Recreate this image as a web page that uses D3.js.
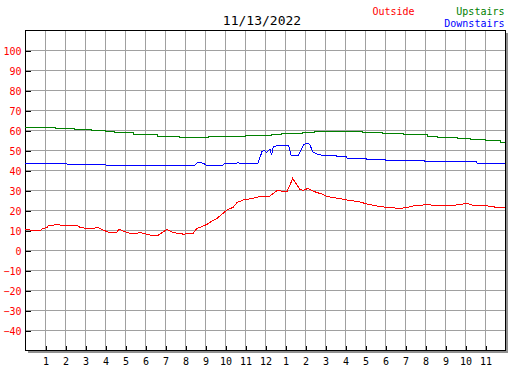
<!DOCTYPE html>
<html>
<head>
<meta charset="utf-8">
<script src="https://cdn.jsdelivr.net/npm/d3@7"></script>
<style>
    body { margin: 0; background: #fff; }
    svg { display: block; font-family: "DejaVu Sans Mono", monospace; }
</style>
</head>
<body>
<div id="chart"></div>
<script>
'use strict';

// 读图得到的数据：[小时, 温度]
var outside = [
    [0, 10.3], [0.1, 10.5], [0.25, 10.0], [0.8, 10.0], [0.85, 10.5], [1.1, 11.3], [1.15, 12.0],
    [1.6, 12.8], [1.85, 12.3], [2.6, 12.3], [2.75, 11.3], [3.1, 10.8], [3.4, 10.8], [3.6, 11.3],
    [3.75, 10.8], [3.9, 10.0], [4.15, 9.0], [4.6, 9.0], [4.7, 10.5], [4.9, 9.5], [5.25, 8.3],
    [5.6, 8.3], [5.75, 8.8], [6.1, 7.8], [6.35, 7.3], [6.65, 7.3], [6.9, 9.0], [7.1, 10.3],
    [7.35, 9.0], [7.6, 8.3], [7.85, 8.3], [7.9, 7.8], [8.1, 8.3], [8.4, 8.3], [8.6, 10.8],
    [8.75, 11.3], [9.1, 12.8], [9.3, 14.2], [9.6, 15.8], [9.8, 17.5], [10.1, 20.0], [10.4, 21.3],
    [10.6, 23.7], [10.9, 25.0], [11.35, 25.7], [11.65, 26.5], [11.75, 27.0], [12.25, 27.0],
    [12.6, 29.7], [13.1, 29.2], [13.25, 32.5], [13.38, 35.8], [13.6, 32.5], [13.75, 30.3],
    [13.9, 29.8], [14.15, 30.8], [14.35, 29.7], [14.6, 28.7], [14.85, 28.0], [15.1, 26.7],
    [15.75, 25.7], [16.1, 25.0], [16.75, 24.0], [17.1, 23.0], [17.6, 22.0], [18.1, 21.3],
    [18.75, 20.8], [19.15, 21.3], [19.4, 22.0], [20.1, 22.7], [20.85, 22.0], [21.4, 22.3],
    [22.1, 23.3], [22.4, 22.3], [23.15, 22.0], [23.6, 21.3], [24, 21.3]
];

var upstairs = [
    [0, 61.3], [1.5, 60.8], [2.45, 60.3], [3.3, 59.8], [4.0, 59.3], [4.45, 58.8], [5.4, 58.0],
    [6.6, 57.0], [7.7, 56.5], [9.15, 57.0], [11.0, 57.4], [12.3, 57.8], [12.8, 58.3],
    [13.85, 58.8], [14.45, 59.3], [16.85, 58.8], [17.85, 58.3], [18.9, 57.7], [20.1, 56.8],
    [20.6, 56.3], [21.6, 55.6], [22.25, 55.1], [23.0, 54.6], [23.75, 54.0], [24, 54.0]
];

var downstairs = [
    [0, 43.5], [2.05, 43.5], [2.1, 43.0], [4.0, 43.0], [4.05, 42.5], [8.35, 42.5], [8.45, 42.0],
    [8.6, 43.6], [8.75, 43.8], [8.95, 43.2], [9.05, 42.5], [9.9, 42.5], [10.0, 43.3], [10.6, 43.4],
    [10.65, 43.8], [10.7, 43.4], [11.65, 43.4], [11.85, 49.2], [11.95, 49.8], [12.08, 48.8],
    [12.25, 50.5], [12.33, 47.5], [12.42, 51.7], [12.75, 52.5], [13.17, 52.5], [13.3, 47.5],
    [13.67, 47.5], [13.8, 50.0], [13.92, 52.5], [14.08, 53.3], [14.17, 53.3], [14.25, 52.5],
    [14.38, 49.2], [14.62, 47.8], [15.0, 47.2], [15.55, 47.2], [15.6, 46.7], [16.05, 46.7],
    [16.1, 46.0], [17.05, 46.0], [17.1, 45.3], [18.0, 45.3], [18.05, 44.7], [19.95, 44.7],
    [20.0, 44.2], [22.55, 44.2], [22.6, 43.5], [24, 43.5]
];

var yTicks = [100, 90, 80, 70, 60, 50, 40, 30, 20, 10, 0, -10, -20, -30, -40];
var hourTicks = d3.range(1, 24);
var hourLabels = ['1', '2', '3', '4', '5', '6', '7', '8', '9', '10', '11', '12',
                  '1', '2', '3', '4', '5', '6', '7', '8', '9', '10', '11'];
var title = '11/13/2022';

(function () {
    const width = 527;
    const height = 370;
    const left = 25, right = 505, top = 30, bottom = 350;

    var svg = d3.select('#chart').append('svg')
        .attr('width', width)
        .attr('height', height);

    var x = d3.scaleLinear().domain([0, 24]).range([left, right]);
    var y = d3.scaleLinear().domain([-50, 110]).range([bottom, top]);

    // 网格
    var grid = svg.append('g')
        .attr('stroke', '#a0a0a0')
        .attr('shape-rendering', 'crispEdges');
    grid.selectAll('.gx').data(hourTicks).enter().append('line')
        .attr('x1', d => Math.round(x(d)) + 0.5).attr('x2', d => Math.round(x(d)) + 0.5)
        .attr('y1', top).attr('y2', bottom);
    grid.selectAll('.gy').data(yTicks).enter().append('line')
        .attr('y1', d => Math.round(y(d)) + 0.5).attr('y2', d => Math.round(y(d)) + 0.5)
        .attr('x1', left).attr('x2', right);

    // 阴影
    svg.append('rect').attr('x', right + 1).attr('y', top + 3).attr('width', 2)
        .attr('height', bottom - top).attr('fill', '#909090');
    svg.append('rect').attr('x', left + 3).attr('y', bottom + 1).attr('width', right - left)
        .attr('height', 2).attr('fill', '#909090');

    // 边框
    svg.append('rect')
        .attr('x', left + 0.5).attr('y', top + 0.5)
        .attr('width', right - left).attr('height', bottom - top)
        .attr('fill', 'none').attr('stroke', '#000')
        .attr('shape-rendering', 'crispEdges');

    // 坐标轴
    var yAxis = svg.append('g')
        .attr('transform', 'translate(' + (left + 0.5) + ',0.5)')
        .call(d3.axisLeft(y).tickValues(yTicks).tickSize(-5).tickPadding(4));
    var xAxis = svg.append('g')
        .attr('transform', 'translate(0.5,' + (bottom + 0.5) + ')')
        .call(d3.axisBottom(x).tickValues(hourTicks).tickSize(-5).tickPadding(7)
            .tickFormat((d, i) => hourLabels[i]));

    [yAxis, xAxis].forEach(function (ax) {
        ax.select('.domain').remove();
        ax.selectAll('.tick line').attr('stroke', '#000').attr('shape-rendering', 'crispEdges');
        ax.selectAll('text').attr('font-family', '"DejaVu Sans Mono", monospace').attr('font-size', 10);
    });
    yAxis.selectAll('text').attr('fill', '#ff0000').attr('dy', '0.4em');
    xAxis.selectAll('text').attr('fill', '#000');

    // 数据线
    var line = d3.line().x(d => x(d[0])).y(d => y(d[1]));
    var stepLine = d3.line().curve(d3.curveStepAfter).x(d => x(d[0])).y(d => y(d[1]));

    svg.append('path').datum(upstairs).attr('d', stepLine)
        .attr('fill', 'none').attr('stroke', '#008000').attr('stroke-width', 1)
        .attr('shape-rendering', 'crispEdges');
    svg.append('path').datum(downstairs).attr('d', line)
        .attr('fill', 'none').attr('stroke', '#0000ff').attr('stroke-width', 1)
        .attr('shape-rendering', 'crispEdges');
    svg.append('path').datum(outside).attr('d', line)
        .attr('fill', 'none').attr('stroke', '#ff0000').attr('stroke-width', 1)
        .attr('shape-rendering', 'crispEdges');

    // 标题和图例
    svg.append('text').text(title)
        .attr('x', 262).attr('y', 25).attr('text-anchor', 'middle')
        .attr('font-size', 13).attr('fill', '#000');
    svg.append('text').text('Outside')
        .attr('x', 372.5).attr('y', 15)
        .attr('font-size', 10).attr('fill', '#ff0000');
    svg.append('text').text('Upstairs')
        .attr('x', 504.5).attr('y', 15).attr('text-anchor', 'end')
        .attr('font-size', 10).attr('fill', '#008000');
    svg.append('text').text('Downstairs')
        .attr('x', 504.5).attr('y', 27).attr('text-anchor', 'end')
        .attr('font-size', 10).attr('fill', '#0000ff');
})();
</script>
</body>
</html>
